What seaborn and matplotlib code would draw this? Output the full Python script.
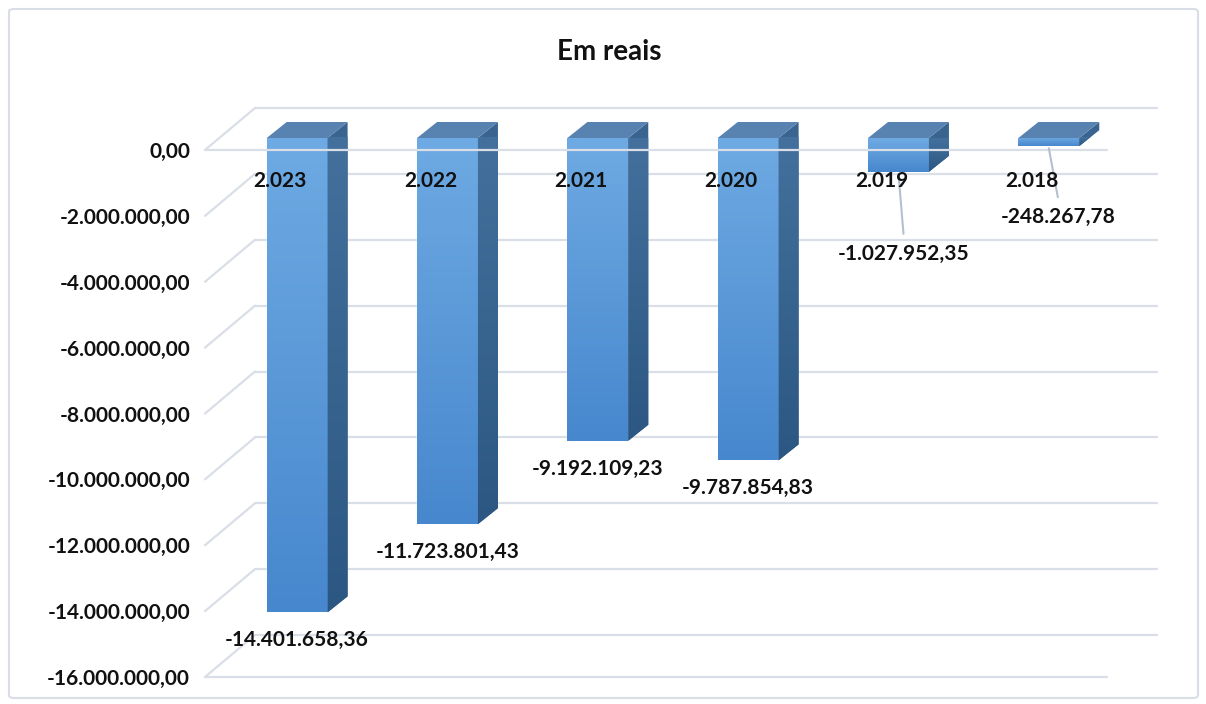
import numpy as np
import seaborn as sns
import matplotlib.pyplot as plt
from matplotlib.transforms import ScaledTranslation, IdentityTransform
from matplotlib.patches import Polygon, FancyBboxPatch
from matplotlib.lines import Line2D
from matplotlib.colors import LinearSegmentedColormap

# dados do grafico
anos = ["2.023", "2.022", "2.021", "2.020", "2.019", "2.018"]
valores = [-14401658.36, -11723801.43, -9192109.23, -9787854.83, -1027952.35, -248267.78]
rotulos = ["-14.401.658,36", "-11.723.801,43", "-9.192.109,23",
           "-9.787.854,83", "-1.027.952,35", "-248.267,78"]
yticks = [0, -2e6, -4e6, -6e6, -8e6, -10e6, -12e6, -14e6, -16e6]
ytick_labels = ["0,00", "-2.000.000,00", "-4.000.000,00", "-6.000.000,00",
                "-8.000.000,00", "-10.000.000,00", "-12.000.000,00",
                "-14.000.000,00", "-16.000.000,00"]

W, H = 1206, 704
FS = 15
sns.set_style("white")
plt.rcParams['font.family'] = ['Lato', 'DejaVu Sans']

fig = plt.figure(figsize=(W / 100, H / 100), dpi=100)
# eixo no plano das barras (meio da profundidade 3D)
ax = fig.add_axes([222 / W, (H - 665) / H, 902 / W, 527 / H])

sns.barplot(x=anos, y=valores, width=0.405, color="#5b9bd5", saturation=1,
            ax=ax, zorder=3)
ax.set_xlim(-0.5, 5.5)
ax.set_ylim(-16e6, 0)
ax.autoscale(False)
for s in ax.spines.values():
    s.set_visible(False)
ax.set_xlabel("")
ax.set_ylabel("")
ax.set_xticks([])
ax.set_yticks(yticks, ytick_labels)
ax.tick_params(axis="y", length=0, pad=23, labelsize=FS, labelcolor="#111111")
for lab in ax.get_yticklabels():
    lab.set_fontweight("bold")
    lab.set_transform(lab.get_transform() + ScaledTranslation(0, -12 / 100, fig.dpi_scale_trans))

ident = IdentityTransform()
gridc = "#d9dee7"
# deslocamentos em pixels: plano frontal e parede do fundo
fx, fy = -17, -12
bx, by = 33, 30
x_left, x_right = ax.bbox.x0, ax.bbox.x1
for t in yticks:
    yb = ax.transData.transform((0, t))[1]
    ax.add_line(Line2D([x_left + fx, x_left + bx], [yb + fy, yb + by], color=gridc,
                       lw=1.6, transform=ident, clip_on=False, zorder=1))
    ax.add_line(Line2D([x_left + bx, x_right + bx], [yb + by, yb + by], color=gridc,
                       lw=1.6, transform=ident, clip_on=False, zorder=1))
    if t in (yticks[0], yticks[-1]):
        ax.add_line(Line2D([x_left + fx, x_right + fx], [yb + fy, yb + fy], color=gridc,
                           lw=1.6, transform=ident, clip_on=False, zorder=6))

# faces 3D das barras
front_cmap = LinearSegmentedColormap.from_list("f", ["#6eaae3", "#4787cd"])
side_cmap = LinearSegmentedColormap.from_list("s", ["#44709d", "#2b5782"])
grad = np.linspace(0, 1, 256).reshape(-1, 1)
dx, dy = 20, 16
for p, v in zip(list(ax.patches), valores):
    x0 = p.get_x()
    w = p.get_width()
    ax.imshow(grad, extent=[x0, x0 + w, v, 0], aspect="auto", cmap=front_cmap,
              clip_path=p, zorder=3, interpolation="bilinear")
    (xl, yt), (xr, ybt) = ax.transData.transform([(x0, 0), (x0 + w, v)])
    side = Polygon([(xr, yt), (xr, ybt), (xr + dx, ybt + dy), (xr + dx, yt + dy)],
                   closed=True, transform=ident, clip_on=False, zorder=3, lw=0,
                   facecolor="#38648f")
    ax.add_patch(side)
    ax.imshow(grad, extent=[x0 + w, x0 + w + 0.2, v, 0], aspect="auto", cmap=side_cmap,
              zorder=3, interpolation="bilinear", clip_path=side)
    top = Polygon([(xl, yt), (xr, yt), (xr + dx, yt + dy), (xl + dx, yt + dy)],
                  closed=True, transform=ident, clip_on=False, zorder=3, lw=0,
                  facecolor="#5882b0")
    ax.add_patch(top)
ax.set_xlim(-0.5, 5.5)
ax.set_ylim(-16e6, 0)

# rotulos de categoria (plano frontal)
for i, a in enumerate(anos):
    ax.text(i, 0, a, ha="center", va="center", fontsize=FS, fontweight="bold",
            color="#111111", zorder=7,
            transform=ax.transData + ScaledTranslation(-17 / 100, -43 / 100, fig.dpi_scale_trans))

# rotulos de valores
desloc = [(0, 0), (0, 0), (0, 0), (0, 0), (5, 54), (9, 43)]
for i, (v, r, (ox, oy)) in enumerate(zip(valores, rotulos, desloc)):
    ax.text(i, v, r, ha="center", va="center", fontsize=FS, fontweight="bold",
            color="#111111", zorder=7,
            transform=ax.transData + ScaledTranslation(ox / 100, (-28 - oy) / 100, fig.dpi_scale_trans))
    if ox or oy:
        xb, yb = ax.transData.transform((i, v))
        ax.add_line(Line2D([xb, xb + ox], [yb - 2, yb - 28 - oy + 20], color="#b4c0d0", lw=1.5,
                           transform=ident, clip_on=False, zorder=6))

fig.text(609 / W, 1 - 52 / H, "Em reais", ha="center", va="center", fontsize=20,
         fontweight="bold", color="#111111")
fig.patches.append(FancyBboxPatch((9 / W, 6 / H), 1189 / W, 689 / H,
                                  boxstyle="round,pad=0,rounding_size=0.004",
                                  transform=fig.transFigure, facecolor="none",
                                  edgecolor="#d9dde6", lw=1.5))

fig.savefig("out.png", dpi=100)
